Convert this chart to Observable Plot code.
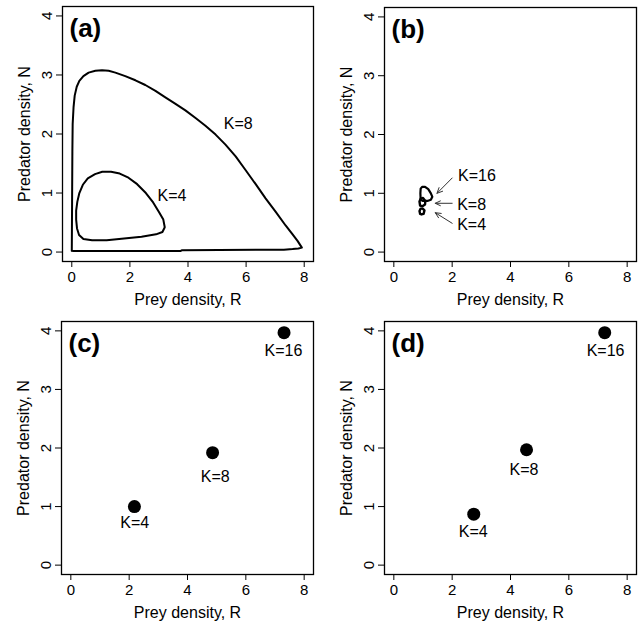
<!DOCTYPE html>
<html><head><meta charset="utf-8">
<script src="https://cdn.jsdelivr.net/npm/d3@7"></script>
<script src="https://cdn.jsdelivr.net/npm/@observablehq/plot@0.6"></script>
<style>
body{margin:0;background:#fff}
#wrap{position:relative;width:638px;height:626px;background:#fff}
#wrap svg{position:absolute}
</style>
</head><body><div id="wrap"></div>
<script>
const xTicks = [0, 2, 4, 6, 8];
const yTicks = [0, 1, 2, 3, 4];
const panelNames = ["(a)", "(b)", "(c)", "(d)"];
const xLabel = "Prey density, R";
const yLabel = "Predator density, N";

// Panel (a): limit cycles
const cycleK8R = [0, 0.05, 3.75, 3.8, 7.3, 7.6, 7.8, 7.92, 7.77, 7.6, 7.36, 7.02, 6.67, 6.33, 5.98, 5.64, 5.29, 4.95, 4.60, 4.26, 3.91, 3.57, 3.22, 2.88, 2.53, 2.19, 1.84, 1.50, 1.27, 1.04, 0.81, 0.58, 0.40, 0.26, 0.17, 0.10, 0.06, 0.03, 0.02, 0.01, 0];
const cycleK8N = [0.02, 0.018, 0.018, 0.032, 0.04, 0.05, 0.06, 0.075, 0.19, 0.30, 0.45, 0.68, 0.91, 1.15, 1.39, 1.62, 1.82, 1.99, 2.14, 2.27, 2.40, 2.51, 2.62, 2.73, 2.83, 2.91, 2.98, 3.04, 3.07, 3.08, 3.07, 3.04, 2.98, 2.90, 2.80, 2.65, 2.45, 2.17, 1.71, 0.85, 0.02];
const cycleK4R = [3.2, 3.15, 3.0, 2.8, 2.55, 2.25, 1.95, 1.65, 1.35, 1.05, 0.8, 0.55, 0.38, 0.26, 0.19, 0.15, 0.15, 0.18, 0.25, 0.4, 0.7, 1.2, 1.8, 2.4, 2.9, 3.12, 3.2];
const cycleK4N = [0.42, 0.55, 0.68, 0.84, 1.0, 1.15, 1.26, 1.33, 1.36, 1.36, 1.32, 1.25, 1.14, 1.0, 0.85, 0.7, 0.55, 0.4, 0.29, 0.22, 0.2, 0.2, 0.23, 0.26, 0.3, 0.34, 0.42];
const labelsA = ["K=8", "K=4"];
const labelsAR = [5.73, 3.45];
const labelsAN = [2.17, 0.96];

// Panel (b): small cycles near equilibrium
const cycB16R = [0.92, 0.91, 0.92, 0.97, 1.07, 1.18, 1.27, 1.32, 1.27, 1.15, 1.0, 0.92];
const cycB16N = [0.89, 1.0, 1.08, 1.11, 1.11, 1.07, 1.0, 0.94, 0.89, 0.87, 0.87, 0.89];
const cycB8R = [0.9, 0.88, 0.92, 1.0, 1.08, 1.07, 0.98, 0.9];
const cycB8N = [0.79, 0.86, 0.91, 0.92, 0.87, 0.81, 0.78, 0.79];
const cycB4R = [0.9, 0.88, 0.92, 0.99, 1.05, 1.02, 0.95, 0.9];
const cycB4N = [0.65, 0.70, 0.74, 0.74, 0.71, 0.65, 0.64, 0.65];
const labelsB = ["K=16", "K=8", "K=4"];
const labelsBR = [2.2, 2.17, 2.17];
const labelsBN = [1.29, 0.80, 0.46];
const arrowFromR = [2.0, 2.0, 2.0];
const arrowFromN = [1.26, 0.83, 0.49];
const arrowToR = [1.48, 1.42, 1.42];
const arrowToN = [1.0, 0.83, 0.67];

// Panels (c) and (d): equilibria
const kLabels = ["K=4", "K=8", "K=16"];
const eqCR = [2.18, 4.86, 7.31];
const eqCN = [1.0, 1.92, 3.97];
const labCR = [2.19, 4.95, 7.29];
const labCN = [0.73, 1.51, 3.66];
const eqDR = [2.74, 4.55, 7.23];
const eqDN = [0.87, 1.97, 3.97];
const labDR = [2.72, 4.46, 7.26];
const labDN = [0.56, 1.63, 3.66];

const zip = (R, N, extra = {}) => R.map((r, i) => ({R: r, N: N[i], ...Object.fromEntries(Object.entries(extra).map(([k, v]) => [k, v[i]]))}));

const FONT = "'Liberation Sans', Arial, Helvetica, sans-serif";

function panel(name, marks, pos) {
  const svg = Plot.plot({
    width: 319, height: 313,
    marginLeft: pos.mL, marginRight: pos.mR, marginTop: pos.mT, marginBottom: pos.mB,
    style: {fontFamily: FONT, fontSize: "15px", color: "#000", background: "transparent", overflow: "visible"},
    x: {domain: [-0.32, 8.32]},
    y: {domain: [-0.16, 4.16]},
    marks: [
      Plot.axisX({ticks: xTicks, tickSize: 6, tickPadding: 4, label: null, fontSize: 15, tickFormat: d => String(d)}),
      Plot.axisY({ticks: yTicks, tickSize: 6, tickPadding: 5, tickRotate: -90, label: null, fontSize: 15, tickFormat: d => String(d)}),
      Plot.frame({stroke: "#000", strokeWidth: 1.3}),
      Plot.text([xLabel], {frameAnchor: "bottom", dy: 38, text: d => d, fontSize: 16, textAnchor: "middle", lineAnchor: "middle"}),
      Plot.text([yLabel], {frameAnchor: "left", dx: -38, rotate: -90, text: d => d, fontSize: 16, textAnchor: "middle", lineAnchor: "middle"}),
      ...marks,
      Plot.text([name], {frameAnchor: "top-left", dx: 7, dy: 12, text: d => d, fontSize: 26, fontWeight: "bold", textAnchor: "start", lineAnchor: "top"})
    ]
  });
  svg.style.left = pos.left + "px";
  svg.style.top = pos.top + "px";
  document.getElementById("wrap").appendChild(svg);
}

const lineStyle = {x: "R", y: "N", stroke: "#000", strokeWidth: 2, strokeLinejoin: "round"};
const textStyle = {x: "R", y: "N", text: "label", fontSize: 16};

panel(panelNames[0], [
  Plot.line(zip(cycleK8R, cycleK8N), lineStyle),
  Plot.line(zip(cycleK4R, cycleK4N), lineStyle),
  Plot.text(zip(labelsAR, labelsAN, {label: labelsA}), textStyle)
], {left: 0, top: 0, mL: 62, mR: 6, mT: 6, mB: 52});

panel(panelNames[1], [
  Plot.line(zip(cycB16R, cycB16N), {...lineStyle, strokeWidth: 2.2}),
  Plot.line(zip(cycB8R, cycB8N), {...lineStyle, strokeWidth: 2.4}),
  Plot.line(zip(cycB4R, cycB4N), {...lineStyle, strokeWidth: 2.4}),
  Plot.arrow(arrowFromR.map((r, i) => ({x1: r, y1: arrowFromN[i], x2: arrowToR[i], y2: arrowToN[i]})),
    {x1: "x1", y1: "y1", x2: "x2", y2: "y2", stroke: "#333", strokeWidth: 1, headLength: 9, headAngle: 50}),
  Plot.text(zip(labelsBR, labelsBN, {label: labelsB}), {...textStyle, textAnchor: "start"})
], {left: 319, top: 0, mL: 65, mR: 2, mT: 7, mB: 52});

panel(panelNames[2], [
  Plot.dot(zip(eqCR, eqCN), {x: "R", y: "N", r: 6.5, fill: "#000", stroke: null}),
  Plot.text(zip(labCR, labCN, {label: kLabels}), textStyle)
], {left: 0, top: 313, mL: 61, mR: 6, mT: 8, mB: 52});

panel(panelNames[3], [
  Plot.dot(zip(eqDR, eqDN), {x: "R", y: "N", r: 6.5, fill: "#000", stroke: null}),
  Plot.text(zip(labDR, labDN, {label: kLabels}), textStyle)
], {left: 319, top: 313, mL: 65, mR: 2, mT: 8, mB: 52});
</script>
</body></html>
